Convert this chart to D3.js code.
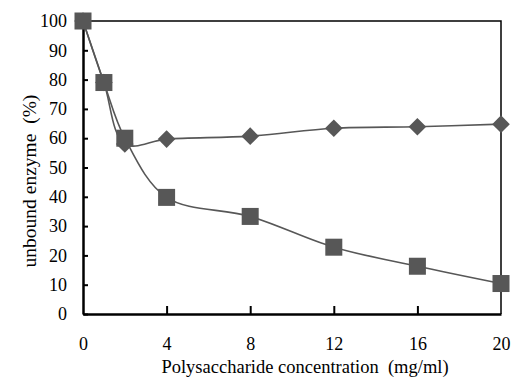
<!DOCTYPE html>
<html>
<head>
<meta charset="utf-8">
<script src="https://cdn.jsdelivr.net/npm/d3@7"></script>
<style>
  body { margin: 0; background: #fff; }
</style>
</head>
<body>
<div class="svgcontainer"></div>
<script>
// concentration (mg/ml)
const conc = [0, 1, 2, 4, 8, 12, 16, 20]
// unbound enzyme (%), diamond series
const diamondVals = [100, 79, 58, 59.7, 60.7, 63.4, 63.9, 64.8]
// unbound enzyme (%), square series
const squareVals = [100, 79, 60, 39.8, 33.3, 22.8, 16.3, 10.4]
const xTicks = [0, 4, 8, 12, 16, 20]
const yTicks = [0, 10, 20, 30, 40, 50, 60, 70, 80, 90, 100]

const width = 513, height = 378
const margin = {top: 21, right: 12, bottom: 64, left: 83}
const grey = "#575757"
const serif = "Liberation Serif"

const svg = d3.select(".svgcontainer")
  .append("svg")
  .attr("width", width)
  .attr("height", height)
  .attr("font-family", serif)

let x = d3.scaleLinear().domain([0, 20]).range([margin.left, width - margin.right])
let y = d3.scaleLinear().domain([0, 100]).range([height - margin.bottom, margin.top])

// frame top + right
svg.append("path")
  .attr("d", `M${x(0)},${y(100)}H${x(20)}V${y(0)}`)
  .attr("fill", "none").attr("stroke", "#000").attr("stroke-width", 1.5)

// axes with inward ticks
let xAxis = svg.append("g")
  .attr("transform", `translate(0,${y(0)})`)
  .call(d3.axisBottom(x).tickValues(xTicks).tickSizeInner(-8).tickSizeOuter(0).tickPadding(23))
let yAxis = svg.append("g")
  .attr("transform", `translate(${x(0)},0)`)
  .call(d3.axisLeft(y).tickValues(yTicks).tickSizeInner(-5).tickSizeOuter(0).tickPadding(16))

for (let ax of [xAxis, yAxis]) {
  ax.attr("font-family", serif).attr("font-size", 18)
  ax.select(".domain").attr("stroke", "#000").attr("stroke-width", 2.5)
  ax.selectAll(".tick line").attr("stroke", "#000").attr("stroke-width", 2)
  ax.selectAll(".tick text").attr("fill", "#000")
}
xAxis.selectAll(".tick").filter(d => d === 0 || d === 20).select("line").remove()

let line = d3.line()
  .x(d => x(d[0]))
  .y(d => y(d[1]))
  .curve(d3.curveCatmullRom.alpha(0.5))

const dPts = conc.map((c, i) => [c, diamondVals[i]])
const sPts = conc.map((c, i) => [c, squareVals[i]])

svg.append("path").attr("d", line(dPts))
  .attr("fill", "none").attr("stroke", grey).attr("stroke-width", 1.6)
svg.append("path").attr("d", line(sPts))
  .attr("fill", "none").attr("stroke", grey).attr("stroke-width", 1.6)

svg.selectAll(".dia").data(dPts).enter().append("path")
  .attr("class", "dia")
  .attr("d", d3.symbol(d3.symbolSquare, 155)())
  .attr("transform", d => `translate(${x(d[0])},${y(d[1])}) rotate(45)`)
  .attr("fill", grey)

svg.selectAll(".sq").data(sPts).enter().append("rect")
  .attr("class", "sq")
  .attr("x", d => x(d[0]) - 8.5).attr("y", d => y(d[1]) - 8.5)
  .attr("width", 17).attr("height", 17)
  .attr("fill", grey)

svg.append("text")
  .attr("x", (x(0) + x(20)) / 2 + 13).attr("y", 373)
  .attr("text-anchor", "middle").attr("font-size", 18.5)
  .attr("xml:space", "preserve")
  .text("Polysaccharide concentration  (mg/ml)")

svg.append("text")
  .attr("transform", `translate(36,181) rotate(-90)`)
  .attr("text-anchor", "middle").attr("font-size", 19.5)
  .attr("xml:space", "preserve")
  .text("unbound enzyme  (%)")
</script>
</body>
</html>
